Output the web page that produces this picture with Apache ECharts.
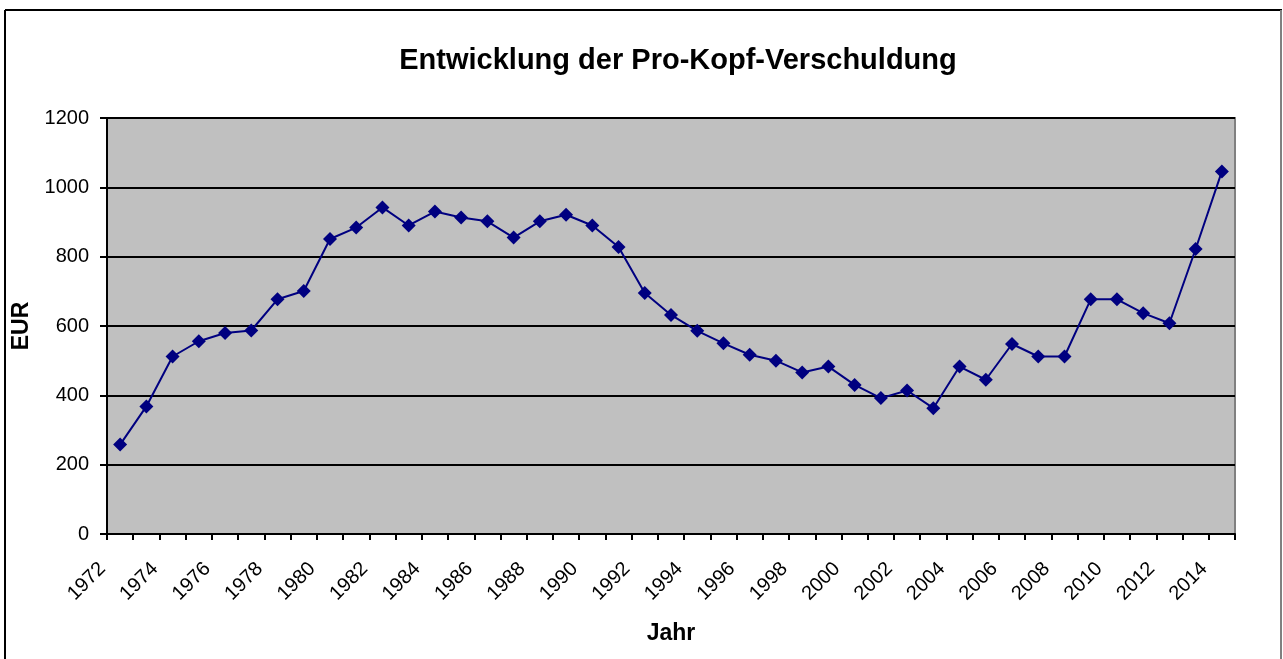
<!DOCTYPE html>
<html>
<head>
<meta charset="utf-8">
<script src="https://cdn.jsdelivr.net/npm/echarts@6/dist/echarts.min.js"></script>
<style>
html,body{margin:0;padding:0;background:#fff;}
#c{width:1283px;height:659px;}
</style>
</head>
<body>
<div id="c"></div>
<script>
const years = ['1972','1973','1974','1975','1976','1977','1978','1979','1980','1981','1982','1983','1984','1985','1986','1987','1988','1989','1990','1991','1992','1993','1994','1995','1996','1997','1998','1999','2000','2001','2002','2003','2004','2005','2006','2007','2008','2009','2010','2011','2012','2013','2014'];
const debtPerCapita = [258,368,512,556,580,587,677,701,851,884,942,890,930,913,902,855,902,921,890,828,695,632,586,550,517,500,466,483,430,392,414,363,483,445,548,512,512,677,677,637,608,822,1046];
const yTicks = {min:0, max:1200, interval:200};

const chart = echarts.init(document.getElementById('c'), null, {renderer:'canvas'});
const FONT = '"Liberation Sans", Arial, sans-serif';
chart.setOption({
  backgroundColor:'#ffffff',
  animation:false,
  title:{
    text:'Entwicklung der Pro-Kopf-Verschuldung',
    left:673, top:41, textAlign:'center',
    textStyle:{fontFamily:FONT, fontWeight:'bold', fontSize:29, color:'#000'}
  },
  grid:{left:107, right:48, top:118, bottom:125, show:true, backgroundColor:'#c0c0c0', borderColor:'#808080', borderWidth:2},
  xAxis:{
    type:'category',
    data:years,
    boundaryGap:true,
    name:'Jahr',
    nameLocation:'middle',
    nameGap:88,
    nameTextStyle:{fontFamily:FONT, fontWeight:'bold', fontSize:23, color:'#000'},
    axisLine:{show:true, lineStyle:{color:'#000', width:2}},
    axisTick:{show:true, interval:0, length:6, lineStyle:{color:'#000', width:2}},
    axisLabel:{interval:1, rotate:45, margin:14, padding:[0,25,0,0], fontFamily:FONT, fontSize:20, color:'#000'},
    splitLine:{show:false}
  },
  yAxis:{
    type:'value',
    min:yTicks.min, max:yTicks.max, interval:yTicks.interval,
    name:'EUR',
    nameLocation:'middle',
    nameRotate:90,
    nameGap:55,
    nameTextStyle:{fontFamily:FONT, fontWeight:'bold', fontSize:23, color:'#000'},
    axisLine:{show:true, lineStyle:{color:'#000', width:2}},
    axisTick:{show:true, length:7, lineStyle:{color:'#000', width:2}},
    axisLabel:{margin:18, fontFamily:FONT, fontSize:20, color:'#000', formatter:function(v){return String(v);}},
    splitLine:{show:true, lineStyle:{color:'#000', width:2}}
  },
  series:[{
    type:'line',
    data:debtPerCapita,
    symbol:'diamond',
    symbolSize:14,
    lineStyle:{color:'#000080', width:2},
    itemStyle:{color:'#000080'}
  }],
  graphic:[
    {type:'line', shape:{x1:5, y1:10, x2:1282, y2:10}, style:{stroke:'#000', lineWidth:2}, silent:true},
    {type:'line', shape:{x1:5, y1:10, x2:5, y2:659}, style:{stroke:'#000', lineWidth:2}, silent:true},
    {type:'line', shape:{x1:1281, y1:10, x2:1281, y2:659}, style:{stroke:'#808080', lineWidth:2}, silent:true}
  ]
});
</script>
</body>
</html>
